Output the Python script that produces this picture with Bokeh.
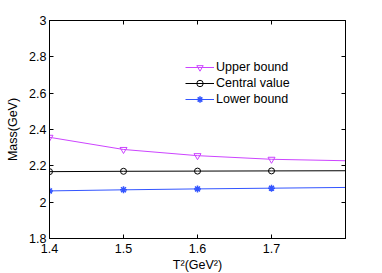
from bokeh.plotting import figure
from bokeh.models import LinearAxis, Range1d, FixedTicker, Legend, LegendItem
from bokeh.embed import file_html
from bokeh.resources import INLINE

# Data
T2 = [1.4, 1.5, 1.6, 1.7, 1.8]
upper = [2.357, 2.290, 2.256, 2.236, 2.228]
central = [2.168, 2.170, 2.171, 2.172, 2.173]
lower = [2.062, 2.068, 2.073, 2.077, 2.081]
marker_T2 = [1.4, 1.5, 1.6, 1.7]
x_ticks = [1.4, 1.5, 1.6, 1.7]
y_ticks = [1.8, 2.0, 2.2, 2.4, 2.6, 2.8, 3.0]

FONT = "Liberation Sans"
C_UP = "#cc44ff"
C_CEN = "#000000"
C_LOW = "#3355ff"

p = figure(frame_width=296, frame_height=218,
           min_border_left=49, min_border_right=37, min_border_top=20, min_border_bottom=35,
           x_range=Range1d(1.4, 1.8), y_range=Range1d(1.8, 3.0),
           output_backend="svg", toolbar_location=None)

p.xgrid.visible = False
p.ygrid.visible = False
p.outline_line_color = "black"
p.outline_line_width = 1

def style_axis(ax, ticks, labels=True):
    ax.ticker = FixedTicker(ticks=ticks)
    ax.major_tick_in = 4
    ax.major_tick_out = 0
    ax.minor_tick_line_color = None
    ax.axis_line_color = "black"
    ax.major_tick_line_color = "black"
    ax.major_label_text_font = FONT
    ax.major_label_text_font_size = "12.5px"
    ax.major_label_text_color = "black"
    ax.axis_label_text_font = FONT
    ax.axis_label_text_font_size = "12.5px"
    ax.axis_label_text_font_style = "normal"
    ax.axis_label_text_color = "black"
    if not labels:
        ax.major_label_text_font_size = "0px"
        ax.major_label_text_alpha = 0

style_axis(p.xaxis[0], x_ticks)
style_axis(p.yaxis[0], y_ticks)
p.xaxis[0].axis_label = "T²(GeV²)"
p.yaxis[0].axis_label = "Mass(GeV)"
p.xaxis[0].major_label_standoff = 5
p.yaxis[0].major_label_standoff = 3
p.xaxis[0].axis_label_standoff = 2
p.yaxis[0].axis_label_standoff = 6
p.yaxis[0].major_label_overrides = {1.8: "1.8", 2.0: "2", 2.2: "2.2", 2.4: "2.4",
                                    2.6: "2.6", 2.8: "2.8", 3.0: "3"}

top = LinearAxis()
style_axis(top, x_ticks, labels=False)
p.add_layout(top, "above")
right = LinearAxis()
style_axis(right, y_ticks, labels=False)
p.add_layout(right, "right")

l1 = p.line(T2, upper, line_color=C_UP, line_width=1)
m1 = p.scatter(marker_T2, upper[:4], marker="inverted_triangle", size=7,
               line_color=C_UP, fill_color=None, line_width=1)
l2 = p.line(T2, central, line_color=C_CEN, line_width=1)
m2 = p.scatter(marker_T2, central[:4], marker="circle", size=6,
               line_color=C_CEN, fill_color=None, line_width=1)
l3 = p.line(T2, lower, line_color=C_LOW, line_width=1)
m3 = p.scatter(marker_T2, lower[:4], marker="asterisk", size=7,
               line_color=C_LOW, line_width=1.5)

legend = Legend(items=[
    LegendItem(label="Upper bound", renderers=[l1, m1]),
    LegendItem(label="Central value", renderers=[l2, m2]),
    LegendItem(label="Lower bound", renderers=[l3, m3]),
], location=(136, 131))
legend.padding = 0
legend.margin = 0
legend.spacing = 0
legend.border_line_alpha = 0
legend.background_fill_alpha = 0
legend.glyph_width = 29
legend.glyph_height = 16
legend.label_height = 16
legend.label_standoff = 2
legend.label_text_font = FONT
legend.label_text_font_size = "12.5px"
legend.label_text_color = "black"
p.add_layout(legend, "center")

open("out.html", "w").write(file_html(p, INLINE))
